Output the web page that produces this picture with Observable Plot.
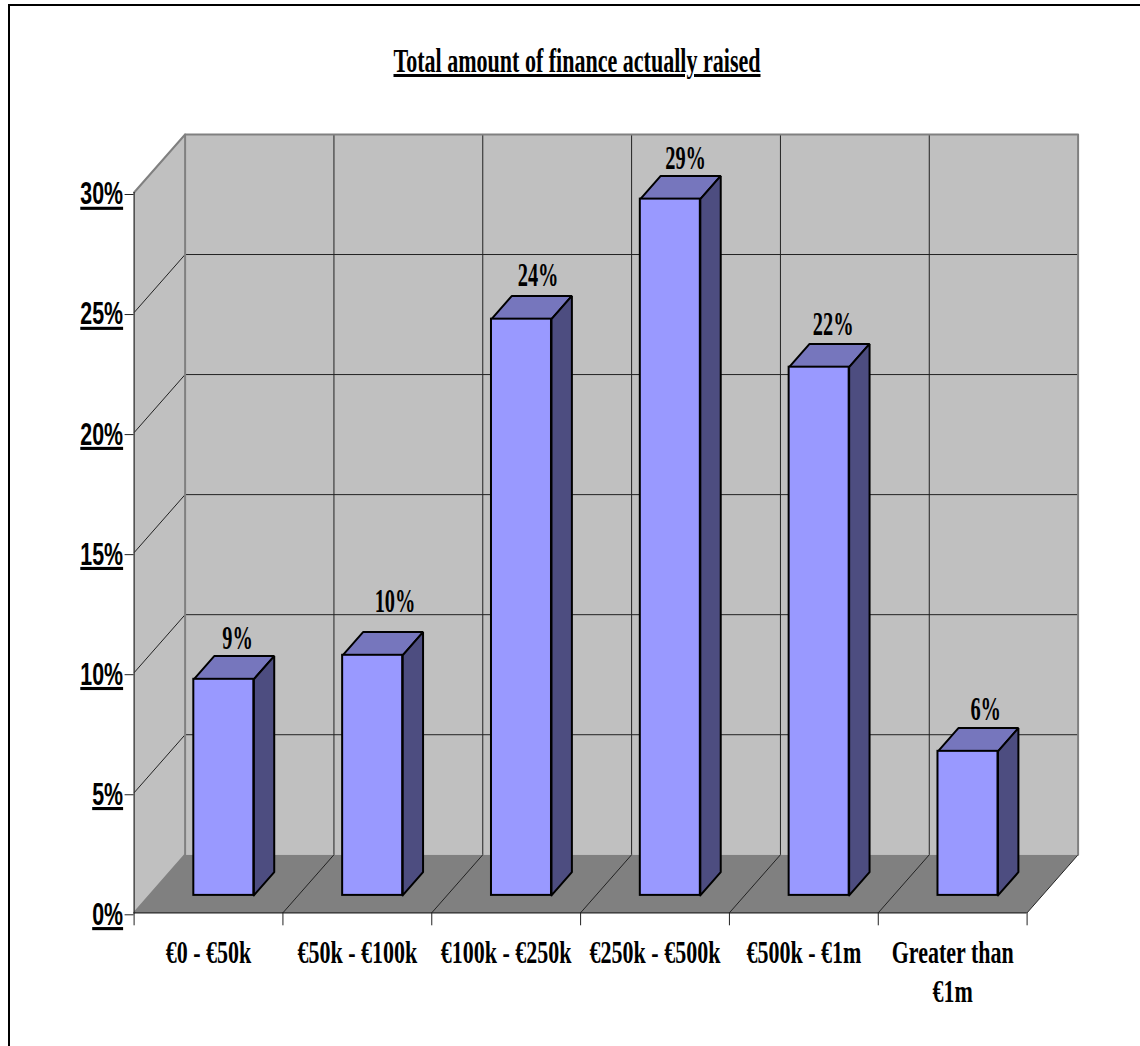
<!DOCTYPE html>
<html>
<head>
<meta charset="utf-8">
<script src="https://cdn.jsdelivr.net/npm/d3@7"></script>
<script src="https://cdn.jsdelivr.net/npm/@observablehq/plot@0.6"></script>
<style>
  html, body { margin: 0; padding: 0; background: #fff; overflow: hidden; }
  #page { position: relative; width: 1140px; height: 1046px; }
  #frame {
    position: absolute; left: 8px; top: 4px; right: 0; bottom: 0;
    border-top: 2px solid #000; border-left: 2px solid #000;
  }
  #title {
    position: absolute; left: 577px; top: 41px; margin: 0;
    font: bold 34px/40px "Liberation Serif", serif;
    white-space: nowrap; color: #000;
    text-decoration: underline; text-decoration-thickness: 3px;
    transform: translateX(-50%) scaleX(0.648);
  }
  #chart { position: absolute; left: 0; top: 100px; }
  .value-axis text { text-decoration: underline; text-decoration-thickness: 4px; }
</style>
</head>
<body>
<div id="page">
  <h1 id="title">Total amount of finance actually raised</h1>
  <div id="chart"></div>
  <div id="frame"></div>
</div>
<script>
const categories = ["€0 - €50k", "€50k - €100k", "€100k - €250k", "€250k - €500k", "€500k - €1m", "Greater than\n€1m"];
const shares = [9, 10, 24, 29, 22, 6];
const valueTicks = [0, 5, 10, 15, 20, 25, 30];
const slotEdges = [0, 1, 2, 3, 4, 5, 6];

// Oblique projection of the chart box: depth runs 0 (front) to 1 (back wall).
const depthX = 0.3427;   // category units per full depth
const depthY = 2.4167;   // percentage points per full depth
const barFront = 0.3, barBack = 0.7, barHalfWidth = 0.2016;
const px = (x, z) => x + z * depthX;
const py = (y, z) => y + z * depthY;
const pt = (x, y, z) => ({x: px(x, z), y: py(y, z)});

// Manual nudges of the value labels, relative to each bar's top front edge.
const labelNudgeX = [13.7, 22.4, 16.6, 15.3, 14, 17.7];
const labelNudgeY = [-30, -43, -33, -30, -32, -31];

const maxX = slotEdges[slotEdges.length - 1];
const maxY = valueTicks[valueTicks.length - 1];

const polygon = (id, points) => [...points, points[0]].map((p) => ({...p, id}));

const sideWall = polygon("side", [pt(0, 0, 0), pt(0, 0, 1), pt(0, maxY, 1), pt(0, maxY, 0)]);
const backWall = polygon("back", [pt(0, 0, 1), pt(maxX, 0, 1), pt(maxX, maxY, 1), pt(0, maxY, 1)]);
const floor = polygon("floor", [pt(0, 0, 0), pt(maxX, 0, 0), pt(maxX, 0, 1), pt(0, 0, 1)]);

const bars = shares.map((value, i) => ({
  i, value,
  left: i + 0.5 - barHalfWidth,
  right: i + 0.5 + barHalfWidth
}));
const topFaces = bars.flatMap((b) => polygon(b.i, [
  pt(b.left, b.value, barFront), pt(b.right, b.value, barFront),
  pt(b.right, b.value, barBack), pt(b.left, b.value, barBack)
]));
const sideFaces = bars.flatMap((b) => polygon(b.i, [
  pt(b.right, 0, barFront), pt(b.right, b.value, barFront),
  pt(b.right, b.value, barBack), pt(b.right, 0, barBack)
]));

const gridColor = "#222222";
const edgeColor = "#808080";
const serif = "Liberation Serif";
const innerEdges = slotEdges.slice(1, -1);
const innerTicks = valueTicks.slice(1, -1);

const chart = Plot.plot({
  width: 1140,
  height: 946,
  marginLeft: 133.6,
  marginRight: 113.4,
  marginTop: 92,
  marginBottom: 133.7,
  style: {background: "transparent"},
  x: {domain: [0, maxX], axis: null},
  y: {domain: [0, maxY], axis: null},
  marks: [
    // Box: side wall, back wall and floor
    Plot.line(sideWall, {x: "x", y: "y", fill: "#c0c0c0", stroke: "none"}),
    Plot.line(backWall, {x: "x", y: "y", fill: "#c0c0c0", stroke: "none"}),
    Plot.line(floor, {x: "x", y: "y", fill: "#808080", stroke: "none"}),

    // Gridlines following the walls and the floor
    Plot.link(innerTicks, {x1: () => px(0, 0), y1: (d) => py(d, 0), x2: () => px(0, 1), y2: (d) => py(d, 1), stroke: gridColor, strokeWidth: 1}),
    Plot.link(innerTicks, {x1: () => px(0, 1), y1: (d) => py(d, 1), x2: () => px(maxX, 1), y2: (d) => py(d, 1), stroke: gridColor, strokeWidth: 1}),
    Plot.link(innerEdges, {x1: (d) => px(d, 1), y1: () => py(0, 1), x2: (d) => px(d, 1), y2: () => py(maxY, 1), stroke: gridColor, strokeWidth: 1}),
    Plot.link(innerEdges, {x1: (d) => px(d, 0), y1: () => py(0, 0), x2: (d) => px(d, 1), y2: () => py(0, 1), stroke: gridColor, strokeWidth: 1}),
    Plot.link([maxX], {x1: (d) => px(d, 0), y1: () => py(0, 0), x2: (d) => px(d, 1), y2: () => py(0, 1), stroke: gridColor, strokeWidth: 1}),

    // Light outer edges of the box
    Plot.line([pt(0, 0, 0), pt(0, 0, 1), pt(0, maxY, 1), pt(maxX, maxY, 1), pt(maxX, 0, 1)], {x: "x", y: "y", stroke: edgeColor, strokeWidth: 2}),
    Plot.line([pt(0, maxY, 0), pt(0, maxY, 1)], {x: "x", y: "y", stroke: edgeColor, strokeWidth: 2}),

    // Front axis lines
    Plot.ruleX([0], {y1: 0, y2: maxY, stroke: gridColor, strokeWidth: 1.2}),
    Plot.ruleY([0], {x1: 0, x2: maxX, stroke: gridColor, strokeWidth: 1.2}),

    // Bars: top, side and front faces
    Plot.line(topFaces, {x: "x", y: "y", z: "id", fill: "#7676bd", stroke: "#000", strokeWidth: 2, strokeLinejoin: "miter"}),
    Plot.line(sideFaces, {x: "x", y: "y", z: "id", fill: "#4d4d80", stroke: "#000", strokeWidth: 2, strokeLinejoin: "miter"}),
    Plot.rect(bars, {
      x1: (d) => px(d.left, barFront), x2: (d) => px(d.right, barFront),
      y1: () => py(0, barFront), y2: (d) => py(d.value, barFront),
      fill: "#9999ff", stroke: "#000", strokeWidth: 2
    }),

    // Value labels above the bars
    ...bars.map((b) => Plot.text([b], {
      x: (d) => px(d.left + barHalfWidth, barFront),
      y: (d) => py(d.value, barFront),
      text: (d) => `${d.value}%`,
      dx: labelNudgeX[b.i],
      dy: labelNudgeY[b.i],
      lineAnchor: "bottom",
      fontFamily: serif, fontWeight: "bold", fontSize: 34, fill: "#000",
      className: "value-label"
    })),

    // Axes
    Plot.axisY({
      ticks: valueTicks, tickFormat: (d) => `${d}%`, tickSize: 9, tickPadding: 2, label: null,
      stroke: gridColor, fill: "#000", fontFamily: "Liberation Sans", fontWeight: "bold", fontSize: 31,
      dy: 2, className: "value-axis"
    }),
    Plot.axisX({
      ticks: slotEdges, tickFormat: () => "", tickSize: 13, label: null, stroke: gridColor
    }),
    Plot.axisX({
      ticks: slotEdges.slice(0, -1).map((d) => d + 0.5),
      tickFormat: (d) => categories[Math.floor(d)],
      tickSize: 0, tickPadding: 23, label: null, lineHeight: 1.25,
      fill: "#000", fontFamily: serif, fontWeight: "bold", fontSize: 31, className: "category-axis"
    })
  ]
});

document.getElementById("chart").append(chart);

// The type is set condensed: narrow each text horizontally around its anchor.
function condense(selector, factor) {
  chart.querySelectorAll(selector).forEach((text) => {
    const placed = text.getAttribute("transform") || "";
    text.setAttribute("transform", `${placed} scale(${factor},1)`);
  });
}
condense(".value-axis text", 0.69);
condense(".category-axis text", 0.71);
condense(".value-label text", 0.6);
</script>
</body>
</html>
